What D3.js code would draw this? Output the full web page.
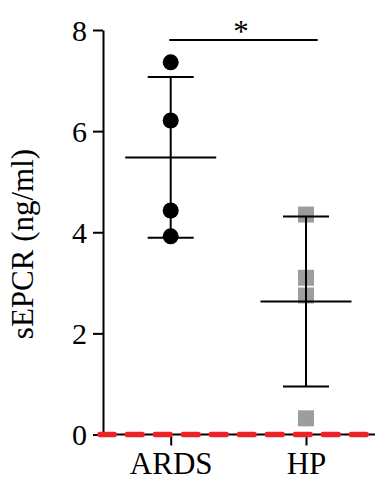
<!DOCTYPE html>
<html><head><meta charset="utf-8">
<script src="https://cdn.jsdelivr.net/npm/d3@7"></script>
<style>body{margin:0;background:#fff}</style>
</head><body>
<svg id="c" width="376" height="492"></svg>
<script>
const groups = ["ARDS", "HP"];
const ardsValues = [7.36, 6.21, 4.43, 3.92];
const hpValues = [4.35, 3.10, 2.75, 0.32];
const means = [5.48, 2.63];
const sds = [1.59, 1.68];
const yTicks = [0, 2, 4, 6, 8];
const yLabel = "sEPCR (ng/ml)";
const sigLabel = "*";

const svg = d3.select("#c");
const font = "'Liberation Serif', 'Times New Roman', serif";
const y = d3.scaleLinear().domain([0, 8]).range([434.5, 30]);
const x = d3.scalePoint().domain(groups).range([170.7, 306]);

// Y axis
const yAxis = svg.append("g").attr("transform", "translate(103,0)")
  .call(d3.axisLeft(y).tickValues(yTicks).tickSize(10).tickPadding(6).tickSizeOuter(0));
yAxis.select(".domain").attr("stroke", "#000").attr("stroke-width", 2);
yAxis.selectAll(".tick line").attr("stroke", "#000").attr("stroke-width", 2);
yAxis.selectAll(".tick text").attr("font-family", font).attr("font-size", 30).attr("fill", "#000").attr("dy", "0.34em");

// X axis
const xAxis = svg.append("g").attr("transform", "translate(0,434.5)")
  .call(d3.axisBottom(x).tickSize(11).tickPadding(6).tickSizeOuter(0));
xAxis.select(".domain").attr("d", "M102,0H375").attr("stroke", "#000").attr("stroke-width", 2);
xAxis.selectAll(".tick line").attr("stroke", "#000").attr("stroke-width", 2);
xAxis.selectAll(".tick text").attr("font-family", font).attr("font-size", 31).attr("fill", "#000").attr("dy", "0.74em");

// Red dashed zero line
svg.append("line").attr("x1", 100).attr("x2", 366.3).attr("y1", y(0)).attr("y2", y(0))
  .attr("stroke", "#ec2227").attr("stroke-width", 5.5).attr("stroke-linecap", "round")
  .attr("stroke-dasharray", "15,13").attr("stroke-dashoffset", 0.75);

// Points
svg.append("g").selectAll("circle").data(ardsValues).join("circle")
  .attr("cx", x("ARDS")).attr("cy", d => y(d)).attr("r", 8).attr("fill", "#000");
const sq = 16;
svg.append("g").selectAll("rect").data(hpValues).join("rect")
  .attr("x", x("HP") - sq / 2).attr("y", d => y(d) - sq / 2).attr("width", sq).attr("height", sq)
  .attr("fill", "#9d9d9d");

// Mean and SD bars
const eb = svg.append("g").attr("stroke", "#000").attr("stroke-width", 2);
groups.forEach((g, i) => {
  const cx = x(g), m = means[i], s = sds[i];
  eb.append("line").attr("x1", cx).attr("x2", cx).attr("y1", y(m + s)).attr("y2", y(m - s));
  eb.append("line").attr("x1", cx - 45.5).attr("x2", cx + 45.5).attr("y1", y(m)).attr("y2", y(m));
  eb.append("line").attr("x1", cx - 23).attr("x2", cx + 23).attr("y1", y(m + s)).attr("y2", y(m + s));
  eb.append("line").attr("x1", cx - 23).attr("x2", cx + 23).attr("y1", y(m - s)).attr("y2", y(m - s));
});

// Significance
svg.append("line").attr("x1", 169.3).attr("x2", 317.7).attr("y1", 40).attr("y2", 40)
  .attr("stroke", "#000").attr("stroke-width", 2);
svg.append("text").attr("x", 241).attr("y", 42).attr("text-anchor", "middle")
  .attr("font-family", font).attr("font-size", 31).text(sigLabel);

// Y label
svg.append("text").attr("transform", "translate(33,244) rotate(-90)")
  .attr("text-anchor", "middle").attr("font-family", font).attr("font-size", 31).text(yLabel);
</script>
</body></html>
